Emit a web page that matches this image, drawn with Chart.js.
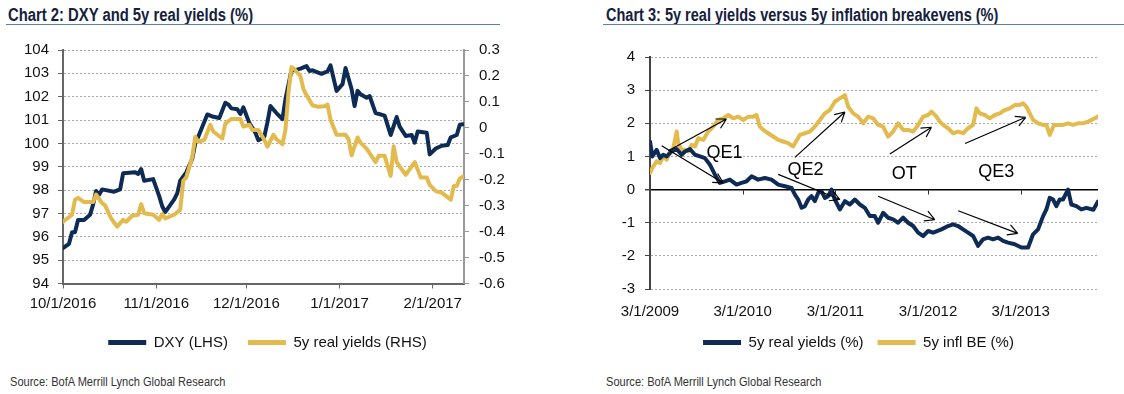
<!DOCTYPE html>
<html>
<head>
<meta charset="utf-8">
<script src="https://cdn.jsdelivr.net/npm/chart.js@4/dist/chart.umd.min.js"></script>
<style>
  body { margin: 0; width: 1124px; height: 394px; background: #fff; position: relative; overflow: hidden; }
  .title { position: absolute; top: 5px; line-height: 18px; white-space: nowrap; transform-origin: 0 0;
           font: bold 18px "Liberation Sans", Arial, sans-serif; color: #14213d; }
  .rule { position: absolute; top: 24px; height: 0; border-top: 1px solid #5b7fb5; }
  .source { position: absolute; top: 375px; line-height: 13px; white-space: nowrap; transform-origin: 0 0;
            transform: scaleX(0.885); font: 12.5px "Liberation Sans", Arial, sans-serif; color: #333; }
  canvas { position: absolute; top: 30px; }
</style>
</head>
<body>
<div class="title" style="left:8px; transform:scaleX(0.823)">Chart 2: DXY and 5y real yields (%)</div>
<div class="rule" style="left:6px; width:494px"></div>
<div class="title" style="left:606px; transform:scaleX(0.807)">Chart 3: 5y real yields versus 5y inflation breakevens (%)</div>
<div class="rule" style="left:603px; width:521px"></div>
<canvas id="chart2" width="520" height="330" style="left:0"></canvas>
<canvas id="chart3" width="520" height="330" style="left:600px"></canvas>
<div class="source" style="left:10px">Source: BofA Merrill Lynch Global Research</div>
<div class="source" style="left:606px">Source: BofA Merrill Lynch Global Research</div>

<script>
// Chart 2: days since 10/1/2016
const dxyDays = [0,2,3,4,5,7,9,10,11,12,13,17,19,20,24,25,26,27,30,32,33,34,37,38,39,41,43,44,45,48,50,52,54,55,56,58,59,60,62,64,65,66,67,68,69,71,73,74,76,77,79,81,82,83,86,88,89,91,93,94,96,97,98,99,101,102,104,107,109,111,112,114,116,117,118,121,122,124,126,128,129,131,132,133];
const dxyValues = [95.52,95.7,96.2,96.2,96.72,96.72,96.94,97.38,97.96,97.8,98.03,97.93,98.03,98.72,98.76,98.69,98.9,98.4,98.47,97.74,97.31,97.06,97.6,97.86,98.4,98.76,99.34,100.0,100.29,101.24,101.14,101.09,101.74,101.67,101.5,101.46,101.26,101.55,100.87,100.46,100.14,100.2,100.3,100.9,101.6,101.3,101.04,101.89,103.13,103.13,103.2,103.31,103.1,103.13,102.98,103.08,103.34,102.25,102.54,103.23,102.33,101.6,102.25,102.1,101.96,102.03,101.3,101.19,100.36,101.13,100.72,100.32,100.36,100.03,100.51,100.46,99.53,99.78,99.9,99.93,100.26,100.36,100.8,100.82];
const ryDays = [0,3,4,5,7,10,11,13,14,16,18,20,21,23,25,26,27,30,32,33,34,37,39,40,41,43,44,45,47,49,50,53,54,56,59,60,62,63,65,67,68,70,71,73,74,75,76,77,79,80,81,83,85,87,88,89,91,94,95,96,98,99,101,104,105,107,109,110,111,114,117,119,121,122,124,126,129,130,131,132,133];
const ryValues = [-0.362,-0.335,-0.277,-0.27,-0.286,-0.286,-0.257,-0.29,-0.299,-0.349,-0.381,-0.355,-0.362,-0.339,-0.335,-0.294,-0.329,-0.335,-0.355,-0.332,-0.349,-0.335,-0.316,-0.204,-0.191,-0.113,-0.034,-0.054,-0.047,0.012,-0.014,-0.041,0.016,0.034,0.034,0.005,0.012,-0.008,-0.008,-0.047,-0.073,-0.027,-0.044,-0.063,-0.008,0.136,0.234,0.226,0.199,0.149,0.126,0.087,0.081,0.083,0.09,0.031,-0.027,-0.027,-0.044,-0.106,-0.037,-0.058,-0.08,-0.132,-0.108,-0.108,-0.185,-0.071,-0.132,-0.181,-0.132,-0.191,-0.191,-0.22,-0.244,-0.25,-0.277,-0.224,-0.224,-0.195,-0.189];
const tickDays2 = [0, 31, 61, 92, 123];
const tickLabels2 = ['10/1/2016', '11/1/2016', '12/1/2016', '1/1/2017', '2/1/2017'];

// Chart 3: months since 3/1/2009
const realMonths = [0,0.3,0.86,1.29,1.72,2.16,2.8,3.45,4.09,4.53,5.17,5.82,6.47,7.11,7.76,8.41,9.05,9.7,10.34,11.2,11.85,12.5,13.15,14.0,14.87,15.73,16.6,17.46,18.32,18.76,19.19,19.62,20.05,20.48,20.91,21.34,21.77,22.2,22.64,23.07,23.5,23.93,24.58,25.23,25.87,26.52,27.17,27.81,28.46,29.1,29.54,30.18,30.83,31.48,32.13,32.77,33.42,34.07,34.71,35.36,36.01,36.66,37.73,38.59,39.24,39.89,40.53,41.18,41.83,42.47,43.12,43.77,44.41,45.06,45.71,46.35,47.22,48.08,48.95,49.59,50.24,50.89,51.32,51.75,52.18,52.61,53.04,53.47,54.12,54.55,55.2,55.84,56.5,57.4,58];
const realValues = [1.45,1.0,1.2,0.95,1.05,1.0,1.15,1.22,1.05,1.15,1.22,1.05,1.0,0.95,0.75,0.45,0.2,0.25,0.3,0.15,0.2,0.25,0.4,0.3,0.35,0.3,0.15,0.1,0.05,-0.15,-0.3,-0.55,-0.5,-0.3,-0.2,-0.35,-0.1,-0.05,-0.25,-0.2,0.0,-0.3,-0.6,-0.35,-0.45,-0.3,-0.45,-0.55,-0.8,-0.8,-1.0,-0.7,-0.85,-0.9,-1.0,-0.85,-1.0,-1.1,-1.3,-1.4,-1.25,-1.3,-1.2,-1.1,-1.05,-1.1,-1.2,-1.3,-1.4,-1.7,-1.5,-1.45,-1.5,-1.45,-1.55,-1.6,-1.65,-1.75,-1.75,-1.35,-1.2,-0.8,-0.6,-0.25,-0.3,-0.5,-0.3,-0.3,0.0,-0.45,-0.5,-0.6,-0.55,-0.61,-0.36];
const beMonths = [0,0.3,0.86,1.29,1.72,2.16,2.59,3.02,3.45,3.66,4.09,4.53,4.96,5.39,5.82,6.25,6.9,7.54,8.19,8.84,9.48,10.13,10.78,11.42,12.07,12.72,13.36,13.79,14.22,14.66,15.3,15.95,16.6,17.24,17.89,18.53,19.4,20.05,20.7,21.34,21.99,22.64,23.28,23.93,24.58,25.23,25.66,26.3,26.95,27.6,28.24,28.89,29.54,30.18,30.83,31.48,32.13,32.77,33.42,34.07,34.71,35.36,36.01,36.44,37.09,37.52,37.95,38.59,39.24,39.89,40.53,41.18,41.83,42.26,42.7,43.34,43.99,44.63,45.28,45.93,46.57,47.22,47.87,48.3,48.73,49.16,49.59,50.24,50.89,51.32,51.75,52.3,52.82,53.47,54.12,54.77,55.41,56.06,56.71,57.4,58];
const beValues = [0.5,0.65,0.85,0.8,1.0,0.9,1.15,1.25,1.75,1.4,1.2,1.2,1.15,1.35,1.3,1.55,1.5,1.75,1.9,2.1,2.15,2.25,2.15,2.2,2.1,2.2,2.2,2.25,1.9,1.8,1.7,1.6,1.5,1.45,1.4,1.3,1.65,1.7,1.75,1.9,2.1,2.3,2.4,2.65,2.75,2.85,2.5,2.3,2.2,2.0,2.2,2.15,1.95,1.9,1.6,1.75,2.0,1.8,1.8,1.75,1.95,2.2,2.25,2.35,2.2,2.05,1.95,1.85,1.7,1.75,1.7,1.85,1.95,2.45,2.3,2.25,2.15,2.25,2.3,2.4,2.45,2.55,2.55,2.6,2.5,2.3,2.1,2.0,1.95,1.95,1.65,1.95,1.95,1.95,2.0,1.95,2.0,2.0,2.05,2.13,2.2];
const tickMonths3 = [0, 12, 24, 36, 48];
const tickLabels3 = ['3/1/2009', '3/1/2010', '3/1/2011', '3/1/2012', '3/1/2013'];

// arrows [x1, y1, x2, y2] and notes [text, x, y] in chart 3 data units
const arrows3 = [
  [2.37, 1.17, 9.9, 2.13], [1.51, 1.32, 9.48, 0.2],
  [18.76, 0.97, 25.23, 2.34], [16.6, 0.46, 24.58, -0.3],
  [31.05, 1.07, 36.44, 1.88], [29.54, -0.2, 36.87, -0.91],
  [40.8, 1.39, 48.64, 2.18], [39.9, -0.64, 47.6, -1.32]
];
const notes3 = [['QE1', 7.33, 1.09], ['QE2', 17.8, 0.58], ['OT', 31.3, 0.46], ['QE3', 42.5, 0.53]];

const NAVY = '#0e2b55';
const GOLD = '#e3ba4d';
const AXIS = '#666';
const TEXT = '#111';
const FONT = { family: '"Liberation Sans", Arial, sans-serif', size: 15 };

const toPoints = (xs, ys) => xs.map((x, i) => ({ x: x, y: ys[i] }));

const lineStyle = color => ({
  borderColor: color, backgroundColor: color, borderWidth: 4,
  pointRadius: 0, tension: 0, borderJoinStyle: 'round', borderCapStyle: 'round'
});

const legendOpts = gap => ({
  position: 'bottom',
  labels: {
    boxWidth: 38, boxHeight: 5, padding: gap, color: TEXT, font: FONT,
    sort: (a, b) => a.datasetIndex - b.datasetIndex,
    generateLabels(chart) {
      return Chart.defaults.plugins.legend.labels.generateLabels(chart)
        .map(it => Object.assign(it, { fillStyle: it.strokeStyle, lineWidth: 0 }));
    }
  }
});

new Chart(document.getElementById('chart2'), {
  type: 'line',
  data: {
    datasets: [
      { label: 'DXY (LHS)', data: toPoints(dxyDays, dxyValues), yAxisID: 'y', order: 1, ...lineStyle(NAVY) },
      { label: '5y real yields (RHS)', data: toPoints(ryDays, ryValues), yAxisID: 'y1', order: 0, ...lineStyle(GOLD) }
    ]
  },
  options: {
    responsive: false,
    animation: false,
    layout: { padding: { top: 20, left: 15, right: 0, bottom: 0 } },
    plugins: { legend: legendOpts(20), tooltip: { enabled: false } },
    scales: {
      x: {
        type: 'linear', min: 0, max: 133.4,
        afterBuildTicks: s => { s.ticks = tickDays2.map(v => ({ value: v })); },
        afterFit: s => { s.height = 31.5; },
        ticks: { callback: (v, i) => tickLabels2[i], color: TEXT, font: FONT, padding: 6, maxRotation: 0, autoSkip: false },
        grid: { drawOnChartArea: false, tickLength: 5, tickColor: AXIS },
        border: { color: AXIS, width: 2 }
      },
      y: {
        position: 'left', min: 94, max: 104,
        afterFit: s => { s.width = 48; },
        ticks: { stepSize: 1, color: TEXT, font: FONT, padding: 9 },
        grid: { color: '#aaa', tickLength: 5, tickColor: AXIS },
        border: { color: AXIS, width: 2, dash: [2, 2] }
      },
      y1: {
        position: 'right', min: -0.6, max: 0.3,
        afterFit: s => { s.width = 56; },
        ticks: {
          stepSize: 0.1, color: TEXT, font: FONT, padding: 10,
          callback: v => { const r = Math.round(v * 10) / 10; return r === 0 ? '0' : r.toFixed(1); }
        },
        grid: { drawOnChartArea: false, tickLength: 5, tickColor: '#999' },
        border: { color: '#999', width: 2 }
      }
    }
  }
});

const annotate3 = {
  id: 'annotate3',
  afterDatasetsDraw(chart) {
    const { ctx, scales: { x, y } } = chart;
    ctx.save();
    // small tick marks hanging from the zero line
    const y0 = y.getPixelForValue(0);
    ctx.strokeStyle = '#333';
    ctx.lineWidth = 1;
    tickMonths3.slice(1).forEach(m => {
      const px = Math.round(x.getPixelForValue(m)) + 0.5;
      ctx.beginPath(); ctx.moveTo(px, y0); ctx.lineTo(px, y0 + 5); ctx.stroke();
    });
    // arrows
    ctx.strokeStyle = '#000';
    ctx.lineWidth = 1.2;
    arrows3.forEach(([a, b, c, d]) => {
      const x1 = x.getPixelForValue(a), y1 = y.getPixelForValue(b);
      const x2 = x.getPixelForValue(c), y2 = y.getPixelForValue(d);
      const ang = Math.atan2(y2 - y1, x2 - x1);
      ctx.beginPath();
      ctx.moveTo(x1, y1); ctx.lineTo(x2, y2);
      [0.5, -0.5].forEach(o => {
        ctx.moveTo(x2, y2);
        ctx.lineTo(x2 - 11 * Math.cos(ang + o), y2 - 11 * Math.sin(ang + o));
      });
      ctx.stroke();
    });
    ctx.fillStyle = '#000';
    ctx.font = '18px "Liberation Sans", Arial, sans-serif';
    ctx.textBaseline = 'middle';
    notes3.forEach(([t, a, b]) => ctx.fillText(t, x.getPixelForValue(a), y.getPixelForValue(b)));
    ctx.restore();
  }
};

new Chart(document.getElementById('chart3'), {
  type: 'line',
  data: {
    datasets: [
      { label: '5y real yields (%)', data: toPoints(realMonths, realValues), ...lineStyle(NAVY) },
      { label: '5y infl BE (%)', data: toPoints(beMonths, beValues), ...lineStyle(GOLD) }
    ]
  },
  options: {
    responsive: false,
    animation: false,
    layout: { padding: { top: 27, left: 19, right: 22, bottom: 0 } },
    plugins: { legend: legendOpts(14), tooltip: { enabled: false } },
    scales: {
      x: {
        type: 'linear', min: 0, max: 58,
        afterBuildTicks: s => { s.ticks = tickMonths3.map(v => ({ value: v })); },
        afterFit: s => { s.height = 32; },
        ticks: { callback: (v, i) => tickLabels3[i], color: TEXT, font: FONT, padding: 14, maxRotation: 0, autoSkip: false },
        grid: { display: false, drawTicks: false },
        border: { display: false }
      },
      y: {
        min: -3, max: 4,
        afterFit: s => { s.width = 31; },
        ticks: { stepSize: 1, color: TEXT, font: FONT, padding: 10 },
        grid: {
          color: c => (c.tick && c.tick.value === 0 ? '#000' : '#aaa'),
          lineWidth: c => (c.tick && c.tick.value === 0 ? 1.5 : 1),
          tickLength: 5, tickColor: '#444'
        },
        border: { color: '#444', width: 2, dash: c => (c.tick && c.tick.value === 0 ? [] : [2, 2]) }
      }
    }
  },
  plugins: [annotate3]
});
</script>
</body>
</html>
